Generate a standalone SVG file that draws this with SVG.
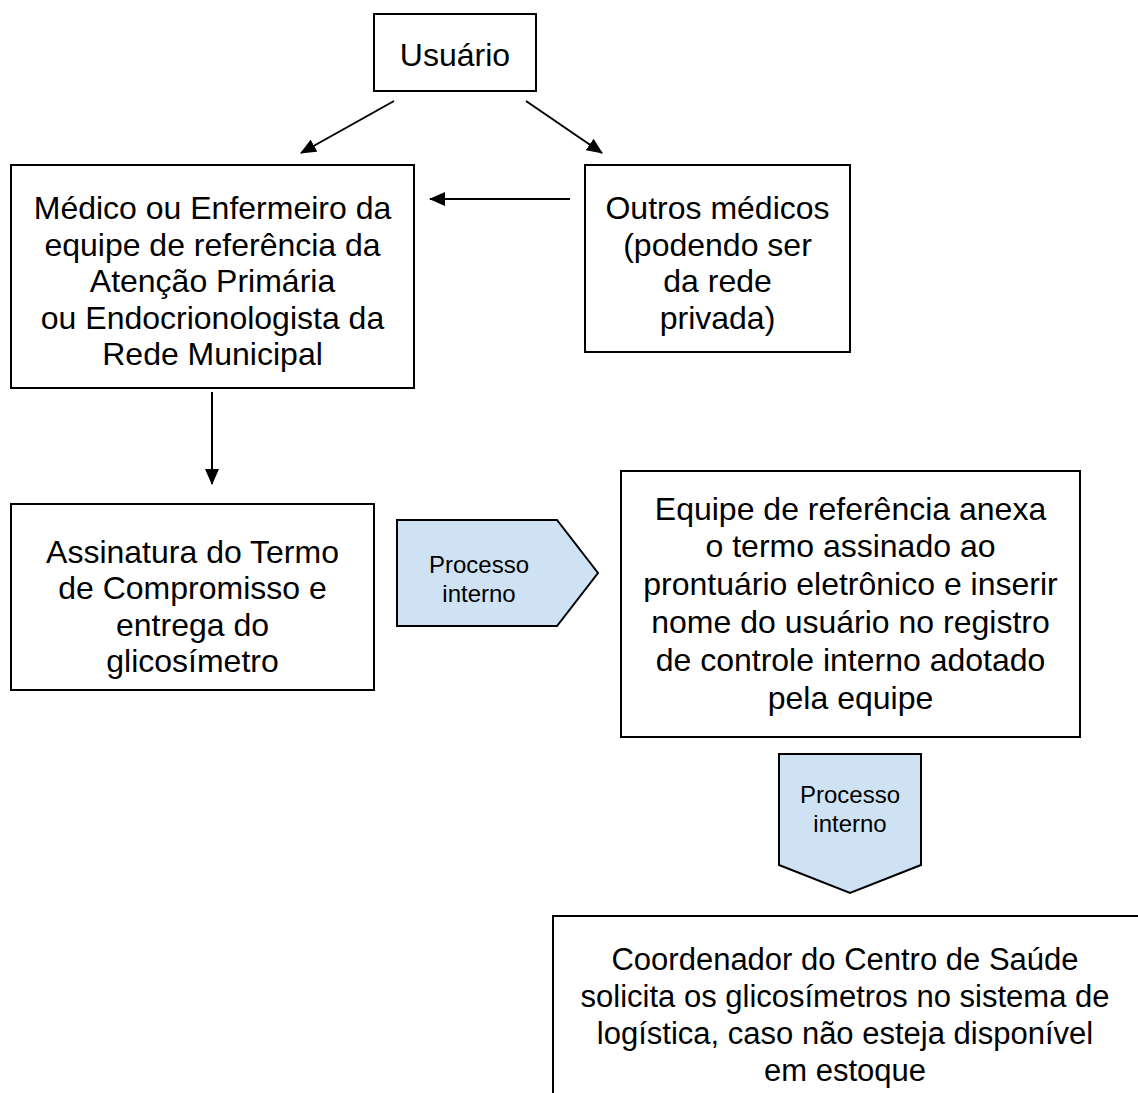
<svg xmlns="http://www.w3.org/2000/svg" width="1138" height="1093" viewBox="0 0 1138 1093">
<style>
.box{fill:#fff;stroke:#000;stroke-width:2}
.proc{fill:#cfe2f3;stroke:#000;stroke-width:2}
.t{font-family:"Liberation Sans",Arial,sans-serif;font-size:32px;fill:#000;text-anchor:middle}
.m{font-family:"Liberation Sans",Arial,sans-serif;font-size:31px;fill:#000;text-anchor:middle}
.s{font-family:"Liberation Sans",Arial,sans-serif;font-size:24px;fill:#000;text-anchor:middle}
.c{stroke:#000;stroke-width:2;fill:none;marker-end:url(#ah)}
</style>
<defs>
<marker id="ah" markerWidth="16" markerHeight="14" refX="15" refY="7" orient="auto" markerUnits="userSpaceOnUse" viewBox="0 0 16 14">
<path d="M0,0 L16,7 L0,14 z" fill="#000"/>
</marker>
</defs>
<rect width="1138" height="1093" fill="#fff"/>
<g id="connectors">
<line class="c" x1="394" y1="101" x2="301" y2="153"/>
<line class="c" x1="526" y1="101" x2="602" y2="153"/>
<line class="c" x1="570" y1="199" x2="430" y2="199"/>
<line class="c" x1="212" y1="392" x2="212" y2="484"/>
</g>
<g id="n-usuario">
<rect class="box" x="374" y="14" width="162" height="77"/>
<text class="t" x="455" y="66">Usuário</text>
</g>
<g id="n-medico">
<rect class="box" x="11" y="165" width="403" height="223"/>
<text class="t" x="212.5" y="219">Médico ou Enfermeiro da</text>
<text class="t" x="212.5" y="256">equipe de referência da</text>
<text class="t" x="212.5" y="292">Atenção Primária</text>
<text class="t" x="212.5" y="329">ou Endocrionologista da</text>
<text class="t" x="212.5" y="365">Rede Municipal</text>
</g>
<g id="n-outros">
<rect class="box" x="585" y="165" width="265" height="187"/>
<text class="t" x="717.5" y="219">Outros médicos</text>
<text class="t" x="717.5" y="256">(podendo ser</text>
<text class="t" x="717.5" y="292">da rede</text>
<text class="t" x="717.5" y="329">privada)</text>
</g>
<g id="n-assinatura">
<rect class="box" x="11" y="504" width="363" height="186"/>
<text class="t" x="192.5" y="563">Assinatura do Termo</text>
<text class="t" x="192.5" y="599">de Compromisso e</text>
<text class="t" x="192.5" y="636">entrega do</text>
<text class="t" x="192.5" y="672">glicosímetro</text>
</g>
<g id="n-proc1">
<path class="proc" d="M397,520 L557,520 L598,573 L557,626 L397,626 Z"/>
<text class="s" x="479" y="573">Processo</text>
<text class="s" x="479" y="602">interno</text>
</g>
<g id="n-equipe">
<rect class="box" x="621" y="471" width="459" height="266"/>
<text class="t" x="850.5" y="520">Equipe de referência anexa</text>
<text class="t" x="850.5" y="557">o termo assinado ao</text>
<text class="t" x="850.5" y="595">prontuário eletrônico e inserir</text>
<text class="t" x="850.5" y="633">nome do usuário no registro</text>
<text class="t" x="850.5" y="671">de controle interno adotado</text>
<text class="t" x="850.5" y="709">pela equipe</text>
</g>
<g id="n-proc2">
<path class="proc" d="M779,754 L921,754 L921,865 L850,893 L779,865 Z"/>
<text class="s" x="850" y="803">Processo</text>
<text class="s" x="850" y="832">interno</text>
</g>
<g id="n-coord">
<rect class="box" x="553" y="916" width="600" height="200"/>
<text class="m" x="845" y="970">Coordenador do Centro de Saúde</text>
<text class="m" x="845" y="1007">solicita os glicosímetros no sistema de</text>
<text class="m" x="845" y="1044">logística, caso não esteja disponível</text>
<text class="m" x="845" y="1081">em estoque</text>
</g>
</svg>
